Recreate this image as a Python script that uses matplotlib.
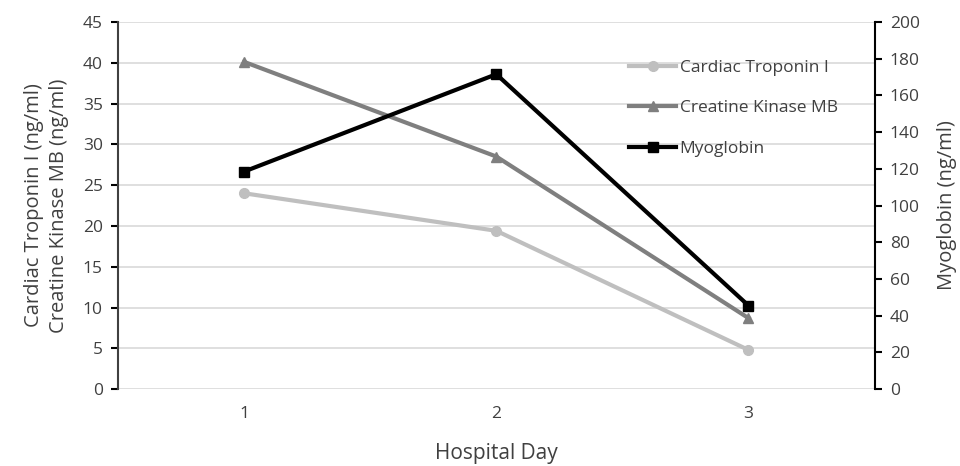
import matplotlib.pyplot as plt

plt.rcParams['font.family'] = ['Open Sans', 'DejaVu Sans']

days = [1, 2, 3]
troponin = [24.0, 19.4, 4.8]
ckmb = [40.1, 28.5, 8.7]
myoglobin = [118.5, 171.5, 45.5]

left_ticks = list(range(0, 46, 5))
right_ticks = list(range(0, 201, 20))

text_col = "#404040"

fig = plt.figure(figsize=(9.6, 4.66), dpi=100)
ax = fig.add_axes([0.123, 0.165, 0.788, 0.788])
ax2 = ax.twinx()

l1, = ax.plot(days, troponin, color="#bfbfbf", lw=3, marker="o", ms=7,
              label="Cardiac Troponin I")
l2, = ax.plot(days, ckmb, color="#7f7f7f", lw=3, marker="^", ms=7,
              label="Creatine Kinase MB")
l3, = ax2.plot(days, myoglobin, color="black", lw=3, marker="s", ms=7,
               label="Myoglobin")

ax.set_xlim(0.5, 3.5)
ax.set_ylim(0, 45)
ax2.set_ylim(0, 200)
ax.set_xticks(days)
ax.set_yticks(left_ticks)
ax2.set_yticks(right_ticks)

ax.grid(axis="y", color="#d9d9d9", lw=1.2)
ax.set_axisbelow(True)

for a in (ax, ax2):
    a.spines["top"].set_visible(False)
    a.spines["bottom"].set_visible(False)
    a.tick_params(labelsize=12.5, labelcolor=text_col, length=5, width=1.5, pad=6)
    a.tick_params(axis="x", length=0, pad=12)
ax.spines["right"].set_visible(False)
ax2.spines["left"].set_visible(False)
ax.spines["left"].set_color("#404040")
ax.spines["left"].set_linewidth(1.5)
ax2.spines["right"].set_color("black")
ax2.spines["right"].set_linewidth(1.5)

ax.set_xlabel("Hospital Day", fontsize=15, color=text_col, labelpad=15)
ax.set_ylabel("Cardiac Troponin I (ng/ml)\nCreatine Kinase MB (ng/ml)",
              fontsize=14.5, color=text_col, labelpad=10, linespacing=1.35)
ax2.set_ylabel("Myoglobin (ng/ml)", fontsize=14.5, color=text_col, labelpad=12)

ax2.legend(handles=[l1, l2, l3], loc="upper left", bbox_to_anchor=(0.655, 0.94),
           frameon=False, fontsize=12.5, labelcolor=text_col, handlelength=2.7,
           handletextpad=0.2, labelspacing=1.4)

fig.savefig("out.png", dpi=100)
